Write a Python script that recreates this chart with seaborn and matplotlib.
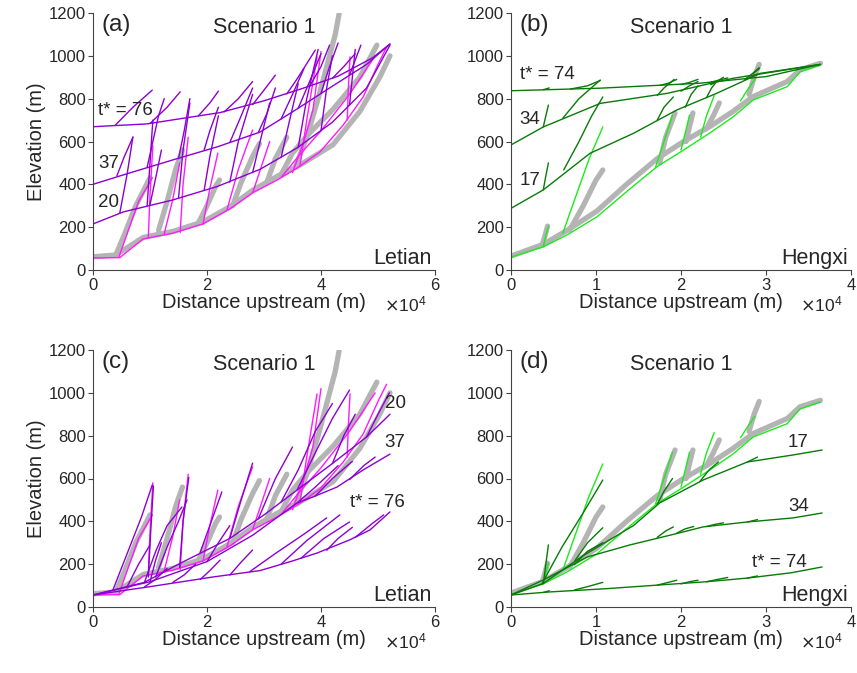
import numpy as np
import pandas as pd
import matplotlib
matplotlib.use('Agg')
import matplotlib.pyplot as plt
from matplotlib.ticker import ScalarFormatter
import seaborn as sns

sns.set_style('ticks')
plt.rcParams['font.family'] = ['Liberation Sans', 'DejaVu Sans']

# distances in 1e4 m, elevations in m; each entry is one channel ([x], [y])

# ---------------- Letian ----------------
letian_obs = [
    ([0, 0.40, 0.88, 1.40, 1.93, 2.40, 2.80, 3.25, 3.63, 4.21, 4.68, 5.03, 5.21],
     [62, 70, 152, 180, 225, 295, 372, 440, 490, 585, 740, 900, 1000]),
    ([0.40, 0.55, 0.75, 1.00], [70, 165, 300, 430]),
    ([1.15, 1.30, 1.45, 1.57], [185, 320, 470, 560]),
    ([1.85, 2.00, 2.15, 2.22], [220, 300, 390, 420]),
    ([2.45, 2.60, 2.80, 2.92], [300, 410, 530, 590]),
    ([3.05, 3.20, 3.40], [410, 520, 620]),
    ([3.30, 3.50, 3.80, 4.21, 4.68, 4.98], [445, 546, 640, 750, 900, 1050]),
    ([3.55, 3.75, 3.95, 4.15, 4.25, 4.32], [480, 620, 800, 1000, 1100, 1200]),
]

letian_now = [
    ([0, 0.47, 0.88, 1.40, 1.93, 2.40, 2.80, 3.23, 3.58, 3.98, 4.39, 4.74, 5.00, 5.15],
     [56, 58, 145, 172, 215, 285, 360, 420, 476, 551, 677, 808, 960, 1040]),
    ([0.45, 0.60, 0.80, 1.04], [57, 170, 320, 430]),
    ([0.97, 1.00, 1.05], [150, 350, 580]),
    ([1.25, 1.40, 1.52], [170, 330, 500]),
    ([1.53, 1.58, 1.67], [175, 400, 620]),
    ([1.93, 2.05, 2.19], [215, 380, 546]),
    ([2.35, 2.55, 2.80], [280, 470, 654]),
    ([2.80, 2.95, 3.10], [360, 480, 600]),
    ([3.30, 3.60, 4.00, 4.50, 4.95], [432, 530, 650, 820, 1000]),
    ([3.50, 3.70, 3.86, 4.00], [455, 600, 750, 1020]),
    ([3.63, 3.75, 3.93], [485, 700, 995]),
    ([4.46, 4.48, 4.51], [700, 850, 995]),
]

# (a) past profiles, raised
letian_up = [
    ([0, 0.53, 1.40, 2.18, 2.93, 3.58, 4.20, 4.80, 5.21], [215, 271, 327, 390, 470, 570, 690, 850, 1050]),
    ([0, 0.53, 1.40, 2.18, 2.93, 3.51, 4.21, 4.80, 5.21], [400, 444, 514, 575, 644, 740, 860, 960, 1055]),
    ([0, 0.94, 2.23, 3.00, 3.70, 4.30, 4.90, 5.21], [669, 682, 735, 790, 850, 905, 990, 1055]),
    # t* = 76 tributaries
    ([0.39, 0.70, 1.04], [676, 760, 840]),
    ([1.00, 1.30, 1.53], [684, 760, 832]),
    ([1.85, 2.05, 2.20], [720, 780, 835]),
    ([2.30, 2.55, 2.80], [738, 800, 880]),
    ([2.80, 3.00, 3.20], [772, 840, 910]),
    ([3.40, 3.60, 3.90], [822, 900, 1027]),
    ([3.80, 4.00, 4.15], [858, 950, 1050]),
    ([4.20, 4.40, 4.60], [895, 950, 1010]),
    # t* = 37 tributaries
    ([0.42, 0.55, 0.70], [440, 530, 620]),
    ([0.95, 1.05, 1.15, 1.25], [480, 600, 720, 800]),
    ([1.50, 1.60, 1.70], [520, 650, 800]),
    ([1.95, 2.05, 2.20], [560, 650, 760]),
    ([2.40, 2.60, 2.80], [595, 720, 850]),
    ([2.90, 3.05, 3.20], [642, 730, 850]),
    ([3.30, 3.50, 3.70], [705, 820, 940]),
    ([3.60, 3.80, 4.00], [755, 880, 1010]),
    ([4.00, 4.15, 4.30], [825, 950, 1060]),
    ([4.50, 4.60, 4.70], [910, 980, 1050]),
    # t* = 20 tributaries
    ([0.47, 0.60, 0.70], [266, 450, 621]),
    ([0.95, 1.00, 1.05], [300, 500, 700]),
    ([1.00, 1.10, 1.20], [305, 430, 560]),
    ([1.50, 1.58, 1.70], [335, 560, 780]),
    ([1.95, 2.05, 2.20], [372, 530, 720]),
    ([2.40, 2.55, 2.80], [410, 600, 820]),
    ([2.80, 2.95, 3.10], [455, 620, 780]),
    ([3.30, 3.45, 3.60], [525, 700, 870]),
    ([3.60, 3.75, 3.95], [572, 800, 1030]),
    ([4.00, 4.10, 4.20], [650, 850, 1000]),
    ([4.50, 4.55, 4.60], [770, 900, 1030]),
]

# (c) past profiles, lowered
letian_down = [
    ([0, 0.90, 1.50, 2.40, 3.00, 3.60, 4.20, 4.80, 5.21], [56, 115, 200, 320, 430, 550, 670, 794, 900]),
    ([0, 1.00, 2.00, 2.80, 3.58, 3.86, 4.28, 4.74, 5.21], [56, 118, 212, 335, 486, 514, 560, 640, 714]),
    ([0, 1.00, 2.10, 2.93, 3.50, 3.93, 4.50, 4.86, 5.21], [56, 95, 140, 170, 215, 252, 313, 360, 444]),
    # t* = 76 tributaries
    ([0.90, 1.10, 1.30], [93, 130, 180]),
    ([1.40, 1.60, 1.80], [115, 150, 200]),
    ([1.88, 2.05, 2.23], [128, 170, 219]),
    ([2.40, 2.60, 2.80], [149, 210, 266]),
    ([2.75, 3.20, 3.70, 4.10], [165, 250, 340, 416]),
    ([3.30, 3.75, 4.33], [200, 310, 430]),
    ([3.65, 4.05, 4.50], [228, 320, 397]),
    ([4.10, 4.30, 4.55], [265, 320, 372]),
    ([4.60, 4.90, 5.10], [325, 390, 430]),
    # t* = 37 tributaries
    ([1.00, 1.10, 1.20], [118, 220, 300]),
    ([2.00, 2.20, 2.40], [212, 300, 380]),
    ([3.58, 3.90, 4.30], [486, 560, 660]),
    ([3.90, 4.20, 4.55], [518, 600, 680]),
    ([4.50, 4.75, 4.95], [595, 660, 700]),
    # t* = 20 tributaries
    ([0.35, 0.60, 0.85, 1.04], [80, 250, 420, 570]),
    ([0.60, 0.80, 1.00], [95, 200, 290]),
    ([0.90, 1.10, 1.30, 1.56], [113, 260, 380, 467]),
    ([1.10, 1.30, 1.50, 1.65], [140, 280, 400, 500]),
    ([0.97, 1.01, 1.06], [140, 340, 565]),
    ([1.52, 1.58, 1.68], [185, 400, 605]),
    ([1.88, 2.05, 2.26], [255, 380, 537]),
    ([2.40, 2.60, 2.80], [320, 500, 672]),
    ([2.90, 3.20, 3.50], [412, 600, 747]),
    ([3.30, 3.60, 3.90, 4.20], [490, 640, 820, 950]),
    ([3.58, 3.90, 4.20, 4.50], [546, 720, 880, 1013]),
    ([4.20, 4.40, 4.60], [670, 800, 900]),
    ([4.80, 5.00, 5.20], [794, 900, 1000]),
]

# ---------------- Hengxi ----------------
hengxi_obs = [
    ([0, 0.38, 0.66, 1.01, 1.36, 1.72, 2.03, 2.34, 2.61, 2.85, 3.25, 3.40, 3.64],
     [65, 120, 185, 275, 400, 520, 600, 670, 740, 810, 880, 935, 965]),
    ([0.37, 0.40, 0.43], [120, 160, 205]),
    ([0.69, 0.85, 1.00, 1.08], [187, 300, 420, 467]),
    ([1.75, 1.82, 1.93], [500, 620, 733]),
    ([2.06, 2.10, 2.14], [600, 670, 733]),
    ([2.30, 2.38, 2.45], [660, 720, 780]),
    ([2.80, 2.86, 2.92], [820, 900, 960]),
]

hengxi_now = [
    ([0, 0.38, 0.66, 1.01, 1.36, 1.72, 2.03, 2.34, 2.61, 2.85, 3.25, 3.40, 3.64],
     [60, 108, 164, 248, 366, 483, 560, 640, 714, 794, 856, 925, 957]),
    ([0.38, 0.41, 0.44], [108, 160, 205]),
    ([0.61, 0.75, 0.92, 1.08], [173, 330, 520, 668]),
    ([1.70, 1.80, 1.90], [480, 600, 723]),
    ([2.00, 2.05, 2.10], [560, 640, 723]),
    ([2.23, 2.30, 2.39], [620, 720, 814]),
    ([2.70, 2.78, 2.87], [790, 840, 890]),
]

# (b) past profiles, raised
hengxi_up = [
    ([0, 0.38, 0.93, 1.44, 1.95, 2.42, 2.93, 3.64], [288, 374, 545, 638, 747, 825, 918, 960]),
    ([0, 0.38, 1.05, 1.84, 2.61, 3.64], [584, 668, 778, 825, 895, 960]),
    ([0, 1.05, 2.22, 3.00, 3.64], [837, 849, 872, 903, 960]),
    # t* = 17 tributaries
    ([0.38, 0.41, 0.44], [374, 440, 500]),
    ([0.62, 0.80, 0.95, 1.08], [467, 600, 720, 808]),
    ([1.72, 1.80, 1.91], [700, 760, 808]),
    ([2.05, 2.12, 2.20], [760, 820, 860]),
    ([2.30, 2.36, 2.42], [805, 850, 880]),
    ([2.75, 2.85, 2.92], [890, 920, 945]),
    # t* = 34 tributaries
    ([0.38, 0.41, 0.44], [668, 720, 770]),
    ([0.61, 0.80, 1.05], [709, 800, 887]),
    ([1.72, 1.80, 1.92], [815, 850, 890]),
    ([2.00, 2.10, 2.20], [835, 860, 880]),
    ([2.35, 2.42, 2.50], [865, 880, 900]),
    ([2.85, 2.92], [918, 940]),
    # t* = 74 tributaries
    ([0.38, 0.45], [842, 850]),
    ([0.70, 0.90, 1.05], [845, 860, 885]),
    ([1.75, 1.85, 1.95], [862, 872, 890]),
    ([2.00, 2.10, 2.20], [866, 876, 890]),
    ([2.35, 2.45, 2.55], [877, 887, 897]),
    ([2.80, 2.90], [898, 915]),
]

# (d) past profiles, lowered
hengxi_down = [
    ([0, 0.38, 0.85, 1.44, 1.75, 2.26, 2.78, 3.32, 3.66], [56, 110, 240, 380, 486, 593, 677, 710, 733]),
    ([0, 0.40, 0.90, 1.40, 1.93, 2.26, 2.78, 3.32, 3.66], [56, 130, 234, 290, 341, 374, 397, 416, 439]),
    ([0, 0.44, 1.10, 1.75, 2.30, 2.78, 3.30, 3.66], [56, 70, 85, 103, 118, 135, 160, 187]),
    # t* = 17 tributaries
    ([0.36, 0.60, 0.85, 1.08], [105, 280, 440, 593]),
    ([0.38, 0.41, 0.44], [110, 200, 290]),
    ([0.75, 0.90, 1.08], [215, 300, 370]),
    ([1.72, 1.80, 1.90], [480, 540, 600]),
    ([2.22, 2.33, 2.44], [585, 640, 677]),
    ([2.78, 2.90], [677, 700]),
    # t* = 34 tributaries
    ([0.75, 0.90, 1.08], [200, 260, 300]),
    ([1.72, 1.82, 1.91], [325, 355, 374]),
    ([1.95, 2.05, 2.15], [345, 365, 376]),
    ([2.30, 2.40, 2.50], [376, 386, 393]),
    ([2.78, 2.90], [397, 408]),
    # t* = 74 tributaries
    ([0.38, 0.45], [68, 76]),
    ([0.75, 0.90, 1.08], [80, 95, 115]),
    ([1.72, 1.85, 1.95], [102, 115, 125]),
    ([2.00, 2.10, 2.20], [108, 118, 125]),
    ([2.30, 2.42, 2.55], [118, 128, 138]),
    ([2.78, 2.90], [135, 145]),
]

GRAY = '#b4b4b4'
MAGENTA = '#ff1aff'
PURPLE = '#8c00d4'
LIME = '#1aeb1a'
DKGREEN = '#087a08'


def frame(lines):
    rows = []
    for i, (xs, ys) in enumerate(lines):
        for x, y in zip(xs, ys):
            rows.append((i, x * 1e4, y))
    return pd.DataFrame(rows, columns=['seg', 'x', 'y'])


def draw(ax, lines, color, lw):
    sns.lineplot(data=frame(lines), x='x', y='y', units='seg', estimator=None,
                 sort=False, color=color, lw=lw, ax=ax, legend=False,
                 solid_capstyle='round', solid_joinstyle='round')


def style(ax, xmax, letter, basin, ylabel):
    ax.set_xlim(0, xmax * 1e4)
    ax.set_ylim(0, 1200)
    ax.set_xticks(np.arange(0, xmax + 1, 2 if xmax == 6 else 1) * 1e4)
    ax.set_yticks(np.arange(0, 1201, 200))
    fmt = ScalarFormatter(useMathText=True)
    fmt.set_powerlimits((0, 0))
    ax.xaxis.set_major_formatter(fmt)
    ax.xaxis.get_offset_text().set_visible(False)
    ax.text(0.975, -0.135, r'$\times\mathdefault{10^{4}}$', transform=ax.transAxes,
            fontsize=12.5, ha='right', va='center')
    ax.tick_params(labelsize=12, length=3.5, width=0.8, color='#444444', pad=1.5)
    for s in ['left', 'bottom']:
        ax.spines[s].set_color('#444444')
        ax.spines[s].set_linewidth(0.8)
    sns.despine(ax=ax)
    ax.set_xlabel('Distance upstream (m)', fontsize=14.5, labelpad=0)
    ax.set_ylabel('Elevation (m)' if ylabel else '', fontsize=14.5, labelpad=2)
    ax.text(0.025, 0.955, letter, transform=ax.transAxes, fontsize=17.5,
            ha='left', va='center')
    ax.text(0.5, 0.945, 'Scenario 1', transform=ax.transAxes, fontsize=15.5,
            ha='center', va='center')
    ax.text(0.99, 0.045, basin, transform=ax.transAxes, fontsize=15.5,
            ha='right', va='center')


W, H = 857, 673
fig = plt.figure(figsize=(W / 100, H / 100), dpi=100)
ax_a = fig.add_axes([93 / W, 1 - 270 / H, 342 / W, 257 / H])
ax_b = fig.add_axes([511 / W, 1 - 270 / H, 340 / W, 257 / H])
ax_c = fig.add_axes([93 / W, 1 - 607 / H, 342 / W, 257 / H])
ax_d = fig.add_axes([511 / W, 1 - 607 / H, 340 / W, 257 / H])

for ax, obs, now, past, c_now, c_past in [
        (ax_a, letian_obs, letian_now, letian_up, MAGENTA, PURPLE),
        (ax_c, letian_obs, letian_now, letian_down, MAGENTA, PURPLE),
        (ax_b, hengxi_obs, hengxi_now, hengxi_up, LIME, DKGREEN),
        (ax_d, hengxi_obs, hengxi_now, hengxi_down, LIME, DKGREEN)]:
    draw(ax, obs, GRAY, 3.8)
    draw(ax, now, c_now, 1.0)
    draw(ax, past, c_past, 1.0)

style(ax_a, 6, '(a)', 'Letian', True)
style(ax_b, 4, '(b)', 'Hengxi', False)
style(ax_c, 6, '(c)', 'Letian', True)
style(ax_d, 4, '(d)', 'Hengxi', False)

lab = dict(fontsize=13.5, va='center')
ax_a.text(0.09e4, 747, 't* = 76', ha='left', **lab)
ax_a.text(0.09e4, 495, '37', ha='left', **lab)
ax_a.text(0.09e4, 313, '20', ha='left', **lab)
ax_b.text(0.10e4, 911, 't* = 74', ha='left', **lab)
ax_b.text(0.10e4, 705, '34', ha='left', **lab)
ax_b.text(0.10e4, 420, '17', ha='left', **lab)
ax_c.text(5.12e4, 948, '20', ha='left', **lab)
ax_c.text(5.12e4, 766, '37', ha='left', **lab)
ax_c.text(4.51e4, 490, 't* = 76', ha='left', **lab)
ax_d.text(3.26e4, 766, '17', ha='left', **lab)
ax_d.text(3.26e4, 467, '34', ha='left', **lab)
ax_d.text(2.84e4, 210, 't* = 74', ha='left', **lab)

fig.savefig('out.png', dpi=100)
